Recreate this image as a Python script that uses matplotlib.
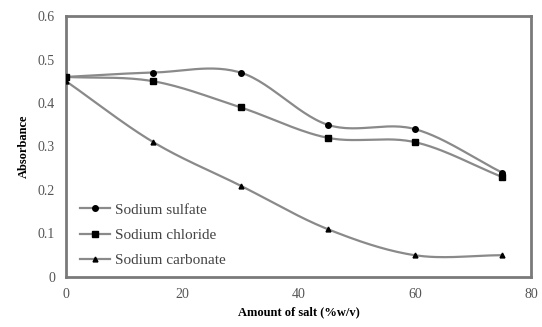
import numpy as np
import matplotlib
matplotlib.use("Agg")
import matplotlib.pyplot as plt

salt = [0, 15, 30, 45, 60, 75]
sulfate = [0.46, 0.47, 0.47, 0.35, 0.34, 0.24]
chloride = [0.46, 0.45, 0.39, 0.32, 0.31, 0.23]
carbonate = [0.45, 0.31, 0.21, 0.11, 0.05, 0.05]
series_names = ["Sodium sulfate", "Sodium chloride", "Sodium carbonate"]
x_ticks = [0, 20, 40, 60, 80]
y_ticks = [0, 0.1, 0.2, 0.3, 0.4, 0.5, 0.6]


def smooth(x, y, n=30):
    """Catmull-Rom curve through the points (spreadsheet-style smoothed line)."""
    x = np.asarray(x, float)
    y = np.asarray(y, float)
    px = np.concatenate([[2 * x[0] - x[1]], x, [2 * x[-1] - x[-2]]])
    py = np.concatenate([[2 * y[0] - y[1]], y, [2 * y[-1] - y[-2]]])
    xs, ys = [], []
    t = np.linspace(0, 1, n)
    for i in range(1, len(px) - 2):
        for p, out in ((px, xs), (py, ys)):
            p0, p1, p2, p3 = p[i - 1], p[i], p[i + 1], p[i + 2]
            out.extend(0.5 * ((2 * p1) + (-p0 + p2) * t
                              + (2 * p0 - 5 * p1 + 4 * p2 - p3) * t ** 2
                              + (-p0 + 3 * p1 - 3 * p2 + p3) * t ** 3))
    return np.array(xs), np.array(ys)


plt.rcParams["font.family"] = ["Liberation Serif", "DejaVu Serif"]

fig = plt.figure(figsize=(5.42, 3.27), dpi=100)
ax = fig.add_axes([0.122, 0.153, 0.858, 0.798])

line_col = "#8a8a8a"
markers = ["o", "s", "^"]
sizes = [4, 4.5, 3.5]
for vals, name, mk, ms in zip([sulfate, chloride, carbonate], series_names, markers, sizes):
    sx, sy = smooth(salt, vals)
    ax.plot(sx, sy, color=line_col, lw=1.6, zorder=2)
    ax.plot(salt, vals, linestyle="none", marker=mk, ms=ms, color="black", zorder=3)
    ax.plot([], [], color=line_col, lw=1.6, marker=mk, ms=ms,
            markerfacecolor="black", markeredgecolor="black", label=name)

ax.set_xlim(0, 80)
ax.set_ylim(0, 0.6)
ax.set_xticks(x_ticks)
ax.set_yticks(y_ticks)
ax.set_xticklabels([str(v) for v in x_ticks])
ax.set_yticklabels(["0"] + [f"{v:.1f}" for v in y_ticks[1:]])
ax.tick_params(length=0, labelsize=10, colors="#555555", pad=8)

for s in ax.spines.values():
    s.set_color("#7a7a7a")
    s.set_linewidth(2)

ax.set_xlabel("Amount of salt (%w/v)", fontsize=9, fontweight="bold", labelpad=4)
ax.set_ylabel("Absorbance", fontsize=9, fontweight="bold", labelpad=6)

ax.legend(loc="lower left", bbox_to_anchor=(0.0, -0.015), frameon=False,
          fontsize=11, handlelength=2.0, labelspacing=0.75, handletextpad=0.3,
          labelcolor="#444444")

fig.savefig("out.png", dpi=100)
